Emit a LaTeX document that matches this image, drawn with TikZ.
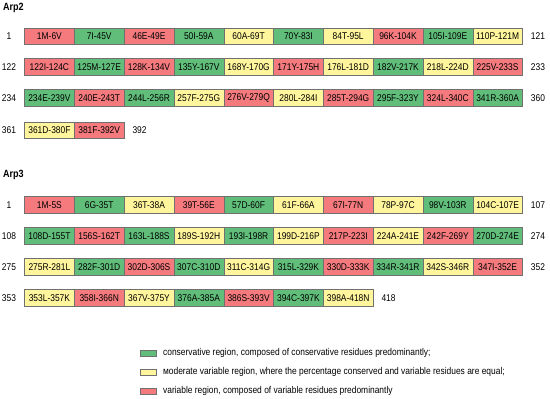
\documentclass[tikz,border=0pt]{standalone}
\usepackage{fontspec}
\setmainfont{Liberation Sans}
\newfontfamily\narrowfont[FakeStretch=0.86]{Liberation Sans}
\usepackage{xcolor}
\usepackage{tikz}
\usetikzlibrary{positioning}

\definecolor{consgreen}{RGB}{96,190,122}
\definecolor{modyellow}{RGB}{255,245,157}
\definecolor{varred}{RGB}{244,122,126}
\definecolor{cellborder}{RGB}{112,112,112}

\tikzset{
  cell/.style={draw=cellborder,minimum width=49.8pt,minimum height=16.7pt,
    inner sep=0pt,anchor=north west,font=\narrowfont\fontsize{9.8}{11}\selectfont},
  numlab/.style={inner sep=0pt,font=\narrowfont\fontsize{9.8}{11}\selectfont},
  endlab/.style={numlab,anchor=west},
  title/.style={inner sep=0pt,anchor=west,font=\narrowfont\fontsize{10.5}{12}\selectfont\bfseries},
  keybox/.style={draw=cellborder,minimum width=16pt,minimum height=6pt,inner sep=0pt},
  keytext/.style={inner sep=0pt,anchor=west,font=\narrowfont\fontsize{9.8}{11}\selectfont}
}

\begin{document}
\begin{tikzpicture}[x=1pt,y=-1pt]
  \useasboundingbox (0,0) rectangle (550,399);
  \node[title] (arp2) at (3,8.3) {Arp2};
  \foreach \lab/\col [count=\i from 0] in {1M-6V/varred,7I-45V/consgreen,46E-49E/varred,
      50I-59A/consgreen,60A-69T/modyellow,70Y-83I/consgreen,84T-95L/modyellow,
      96K-104K/varred,105I-109E/consgreen,110P-121M/modyellow}
    \node[cell,fill=\col] (a2r1c\i) at (24.3+49.8*\i,27.7) {\lab};
  \foreach \lab/\col [count=\i from 0] in {122I-124C/varred,125M-127E/consgreen,
      128K-134V/varred,135Y-167V/consgreen,168Y-170G/modyellow,171Y-175H/varred,
      176L-181D/modyellow,182V-217K/consgreen,218L-224D/modyellow,225V-233S/varred}
    \node[cell,fill=\col] (a2r2c\i) at (24.3+49.8*\i,58.4) {\lab};
  \foreach \lab/\col [count=\i from 0] in {234E-239V/consgreen,240E-243T/varred,
      244L-256R/consgreen,257F-275G/modyellow,276V-279Q/varred,280L-284I/modyellow,
      285T-294G/varred,295F-323Y/consgreen,324L-340C/varred,341R-360A/consgreen}
    \node[cell,fill=\col] (a2r3c\i) at (24.3+49.8*\i,89.3) {\lab};
  \foreach \lab/\col [count=\i from 0] in {361D-380F/modyellow,381F-392V/varred}
    \node[cell,fill=\col] (a2r4c\i) at (24.3+49.8*\i,121.7) {\lab};
  \node[numlab] (a2l1) at (9,36.2) {1};
  \node[numlab] (a2l2) at (9,66.8) {122};
  \node[numlab] (a2l3) at (9,97.7) {234};
  \node[numlab] (a2l4) at (9,130) {361};
  \node[endlab] (a2e1) at ([xshift=8pt]a2r1c9.east) {121};
  \node[endlab] (a2e2) at ([xshift=8pt]a2r2c9.east) {233};
  \node[endlab] (a2e3) at ([xshift=8pt]a2r3c9.east) {360};
  \node[endlab] (a2e4) at ([xshift=8pt]a2r4c1.east) {392};

  \node[title] (arp3) at (3,175) {Arp3};
  \foreach \lab/\col [count=\i from 0] in {1M-5S/varred,6G-35T/consgreen,36T-38A/modyellow,
      39T-56E/varred,57D-60F/consgreen,61F-66A/modyellow,67I-77N/varred,
      78P-97C/modyellow,98V-103R/consgreen,104C-107E/modyellow}
    \node[cell,fill=\col] (a3r1c\i) at (24.3+49.8*\i,196.4) {\lab};
  \foreach \lab/\col [count=\i from 0] in {108D-155T/consgreen,156S-162T/varred,
      163L-188S/consgreen,189S-192H/modyellow,193I-198R/consgreen,199D-216P/modyellow,
      217P-223I/varred,224A-241E/modyellow,242F-269Y/varred,270D-274E/consgreen}
    \node[cell,fill=\col] (a3r2c\i) at (24.3+49.8*\i,227.4) {\lab};
  \foreach \lab/\col [count=\i from 0] in {275R-281L/modyellow,282F-301D/consgreen,
      302D-306S/varred,307C-310D/consgreen,311C-314G/modyellow,315L-329K/consgreen,
      330D-333K/varred,334R-341R/consgreen,342S-346R/modyellow,347I-352E/varred}
    \node[cell,fill=\col] (a3r3c\i) at (24.3+49.8*\i,258.4) {\lab};
  \foreach \lab/\col [count=\i from 0] in {353L-357K/modyellow,358I-366N/varred,
      367V-375Y/modyellow,376A-385A/consgreen,386S-393V/varred,394C-397K/consgreen,
      398A-418N/modyellow}
    \node[cell,fill=\col] (a3r4c\i) at (24.3+49.8*\i,289.4) {\lab};
  \node[numlab] (a3l1) at (9,204.8) {1};
  \node[numlab] (a3l2) at (9,235.7) {108};
  \node[numlab] (a3l3) at (9,266.7) {275};
  \node[numlab] (a3l4) at (9,297.8) {353};
  \node[endlab] (a3e1) at ([xshift=8pt]a3r1c9.east) {107};
  \node[endlab] (a3e2) at ([xshift=8pt]a3r2c9.east) {274};
  \node[endlab] (a3e3) at ([xshift=8pt]a3r3c9.east) {352};
  \node[endlab] (a3e4) at ([xshift=8pt]a3r4c6.east) {418};

  \node[keybox,fill=consgreen] (kcons) at (148,353) {};
  \node[keybox,fill=modyellow] (kmod) at (148,372.2) {};
  \node[keybox,fill=varred] (kvar) at (148,391.2) {};
  \node[keytext,right=6.7pt of kcons] (tcons) {conservative region, composed of conservative residues predominantly;};
  \node[keytext,right=6.7pt of kmod] (tmod) {мoderate variable region, where the percentage conserved and variable residues are equal;};
  \node[keytext,right=6.7pt of kvar] (tvar) {variable region, composed of variable residues predominantly};
\end{tikzpicture}
\end{document}
